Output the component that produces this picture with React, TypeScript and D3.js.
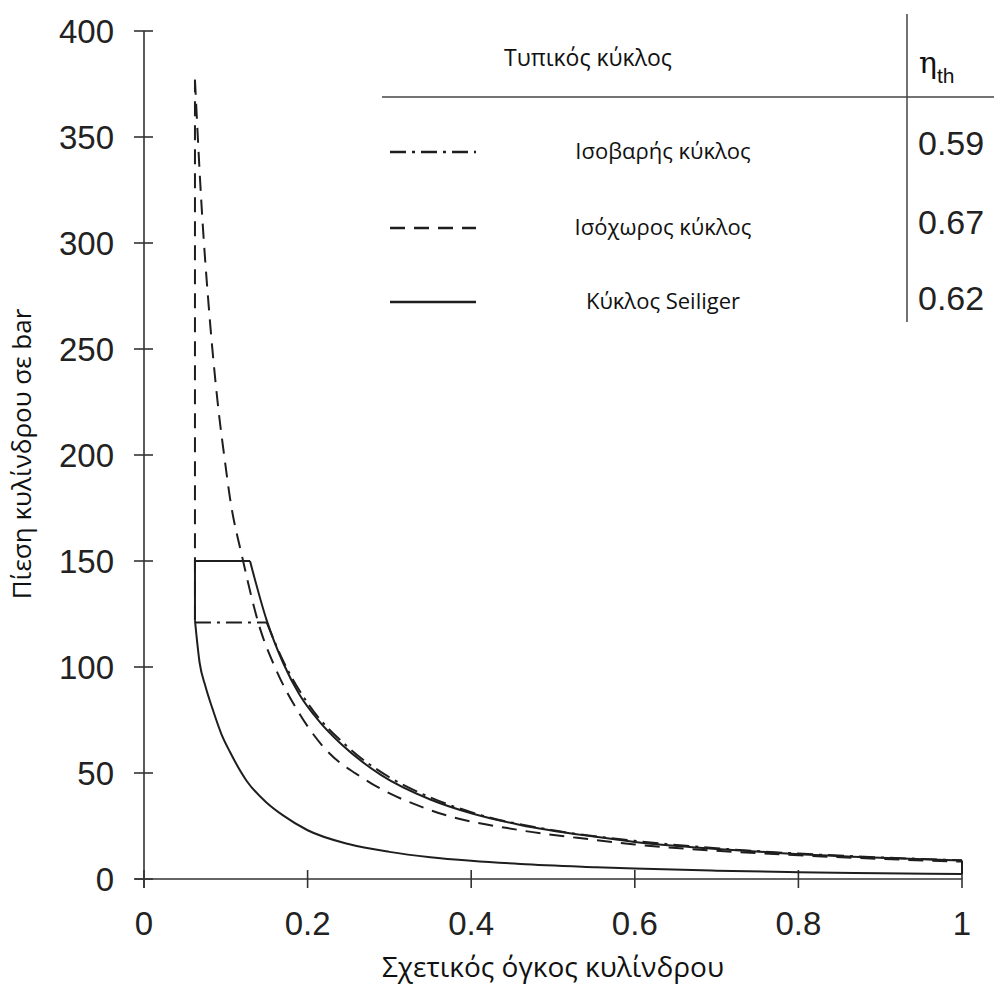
import React from "react";
import * as d3 from "d3";

// ---- data ----
const xTicks = [0, 0.2, 0.4, 0.6, 0.8, 1];
const xTickLabels = ["0", "0.2", "0.4", "0.6", "0.8", "1"];
const yTicks = [0, 50, 100, 150, 200, 250, 300, 350, 400];

// compression (common to all cycles)
const compressionV = [0.0623, 0.068, 0.075, 0.084, 0.095, 0.105, 0.126, 0.15, 0.17, 0.2, 0.25, 0.3, 0.35, 0.4, 0.46, 0.55, 0.6, 0.7, 0.8, 0.9, 1.0];
const compressionP = [122, 102, 91, 80, 68, 60, 46, 36, 30, 23, 16.5, 12.8, 10.3, 8.6, 7.1, 5.6, 4.9, 3.9, 3.2, 2.7, 2.3];

// Seiliger cycle
const seiligerV = [0.1296, 0.15, 0.17, 0.19, 0.215, 0.24, 0.29, 0.35, 0.4, 0.46, 0.55, 0.6, 0.7, 0.78, 0.9, 1.0];
const seiligerP = [150, 122, 102, 87, 74, 64, 49, 37.5, 31, 25.5, 20, 17.5, 14.2, 12.2, 10, 8.7];
const seiligerPmax = 150;

// isobaric cycle
const isobaricV = [0.15, 0.17, 0.2, 0.25, 0.3, 0.35, 0.4, 0.5, 0.6, 0.7, 0.8, 0.9, 1.0];
const isobaricP = [121, 103, 83, 62, 48, 38.5, 31.5, 23, 18, 14.5, 12, 10.2, 8.8];

// isochoric cycle
const isochoricV = [0.0623, 0.07, 0.08, 0.09, 0.1, 0.105, 0.12, 0.142, 0.16, 0.19, 0.22, 0.27, 0.35, 0.46, 0.55, 0.6, 0.7, 0.8, 0.9, 1.0];
const isochoricP = [377, 320, 266, 225, 194, 180, 152, 118, 100, 78, 62, 47, 32.5, 23, 18.5, 16.3, 13.3, 11.2, 9.5, 8.2];

const legendLabels = ["Ισοβαρής κύκλος", "Ισόχωρος κύκλος", "Κύκλος Seiliger"];
const efficiencies = ["0.59", "0.67", "0.62"];

const W = 994;
const H = 992;
const INK = "#1e1e1e";
const GREEK = "'Open Sans', 'Noto Sans', sans-serif";
const NUM = "'Liberation Sans', Arial, sans-serif";

const DASH = "15 9";
const DASHDOT = "16 6 3 6";

export default function App() {
  const x = d3.scaleLinear().domain([0, 1]).range([144, 962]);
  const y = d3.scaleLinear().domain([0, 400]).range([879, 31]);

  const smooth = d3
    .line<[number, number]>()
    .x((d) => x(d[0]))
    .y((d) => y(d[1]))
    .curve(d3.curveMonotoneX);
  const straight = d3
    .line<[number, number]>()
    .x((d) => x(d[0]))
    .y((d) => y(d[1]));

  const zip = (v: number[], p: number[]) => v.map((vv, i) => [vv, p[i]] as [number, number]);

  const vMin = compressionV[0];
  const pComp = compressionP[0];
  const vEnd = compressionV[compressionV.length - 1];
  const pEndLow = compressionP[compressionP.length - 1];

  const comp = zip(compressionV, compressionP);
  const seil = zip(seiligerV, seiligerP);
  const isob = zip(isobaricV, isobaricP);
  const isoc = zip(isochoricV, isochoricP);

  const seilTop: [number, number][] = [
    [vMin, pComp],
    [vMin, seiligerPmax],
    [seiligerV[0], seiligerPmax],
  ];
  const seilEnd: [number, number][] = [
    [vEnd, seiligerP[seiligerP.length - 1]],
    [vEnd, pEndLow],
  ];
  const isobTop: [number, number][] = [
    [vMin, isobaricP[0]],
    [isobaricV[0], isobaricP[0]],
  ];
  const isocUp: [number, number][] = [
    [vMin, pComp],
    [vMin, isochoricP[0]],
  ];

  const legendY = [152, 228, 302];
  const legendDash = [DASHDOT, DASH, undefined];
  const valueBase = [155, 234, 310];

  return (
    <svg
      width={W}
      height={H}
      style={{ position: "absolute", left: 0, top: 0, background: "#fff" }}
    >
      <rect x={0} y={0} width={W} height={H} fill="#fff" />
      {/* axes */}
      <g stroke="#333" strokeWidth={1.6} fill="none">
        <line x1={x(0)} x2={x(0)} y1={y(400)} y2={y(0) + 9} />
        <line x1={x(0) - 9} x2={x(1)} y1={y(0)} y2={y(0)} />
        {yTicks.map((t) => (
          <line key={"yt" + t} x1={x(0) - 10} x2={x(0) + 9} y1={y(t)} y2={y(t)} />
        ))}
        {xTicks.map((t) => (
          <line key={"xt" + t} x1={x(t)} x2={x(t)} y1={y(0) - 9} y2={y(0) + 9} />
        ))}
      </g>
      <g fontFamily={NUM} fontSize={33} fill="#222">
        {yTicks.map((t) => (
          <text key={"yl" + t} x={114} y={y(t) + 12} textAnchor="end">
            {t}
          </text>
        ))}
        {xTicks.map((t, i) => (
          <text key={"xl" + t} x={x(t)} y={935} textAnchor="middle">
            {xTickLabels[i]}
          </text>
        ))}
      </g>
      <text
        x={553}
        y={977}
        textAnchor="middle"
        fontFamily={GREEK}
        fontSize={28}
        fill="#111"
      >
        Σχετικός όγκος κυλίνδρου
      </text>
      <text
        transform={`translate(31,454) rotate(-90)`}
        textAnchor="middle"
        fontFamily={GREEK}
        fontSize={26}
        fill="#111"
      >
        Πίεση κυλίνδρου σε bar
      </text>

      {/* curves */}
      <g fill="none" stroke={INK} strokeWidth={2}>
        <path d={smooth(comp) || ""} />
        <path d={straight(seilTop) || ""} />
        <path d={smooth(seil) || ""} />
        <path d={straight(seilEnd) || ""} />
        <path d={straight(isobTop) || ""} strokeDasharray={DASHDOT} />
        <path d={smooth(isob) || ""} strokeDasharray={DASHDOT} />
        <path d={straight(isocUp) || ""} strokeDasharray={DASH} />
        <path d={smooth(isoc) || ""} strokeDasharray={DASH} />
      </g>

      {/* legend table */}
      <g stroke="#444" strokeWidth={1.5}>
        <line x1={382} x2={994} y1={97} y2={97} />
        <line x1={907} x2={907} y1={14} y2={322} />
      </g>
      <text x={588} y={66} textAnchor="middle" fontFamily={GREEK} fontSize={23} fill="#111">
        Τυπικός κύκλος
      </text>
      <text x={919} y={73} fontFamily="'DejaVu Serif', serif" fontSize={30} fill="#111">
        η
        <tspan fontFamily={NUM} fontSize={21} dy={10}>
          th
        </tspan>
      </text>
      {legendLabels.map((lab, i) => (
        <g key={lab}>
          <line
            x1={390}
            x2={476}
            y1={legendY[i]}
            y2={legendY[i]}
            stroke={INK}
            strokeWidth={2.5}
            strokeDasharray={legendDash[i]}
          />
          <text
            x={663}
            y={legendY[i] + 7}
            textAnchor="middle"
            fontFamily={GREEK}
            fontSize={22}
            fill="#111"
          >
            {lab}
          </text>
          <text x={918} y={valueBase[i]} fontFamily={NUM} fontSize={34} fill="#222">
            {efficiencies[i]}
          </text>
        </g>
      ))}
    </svg>
  );
}
